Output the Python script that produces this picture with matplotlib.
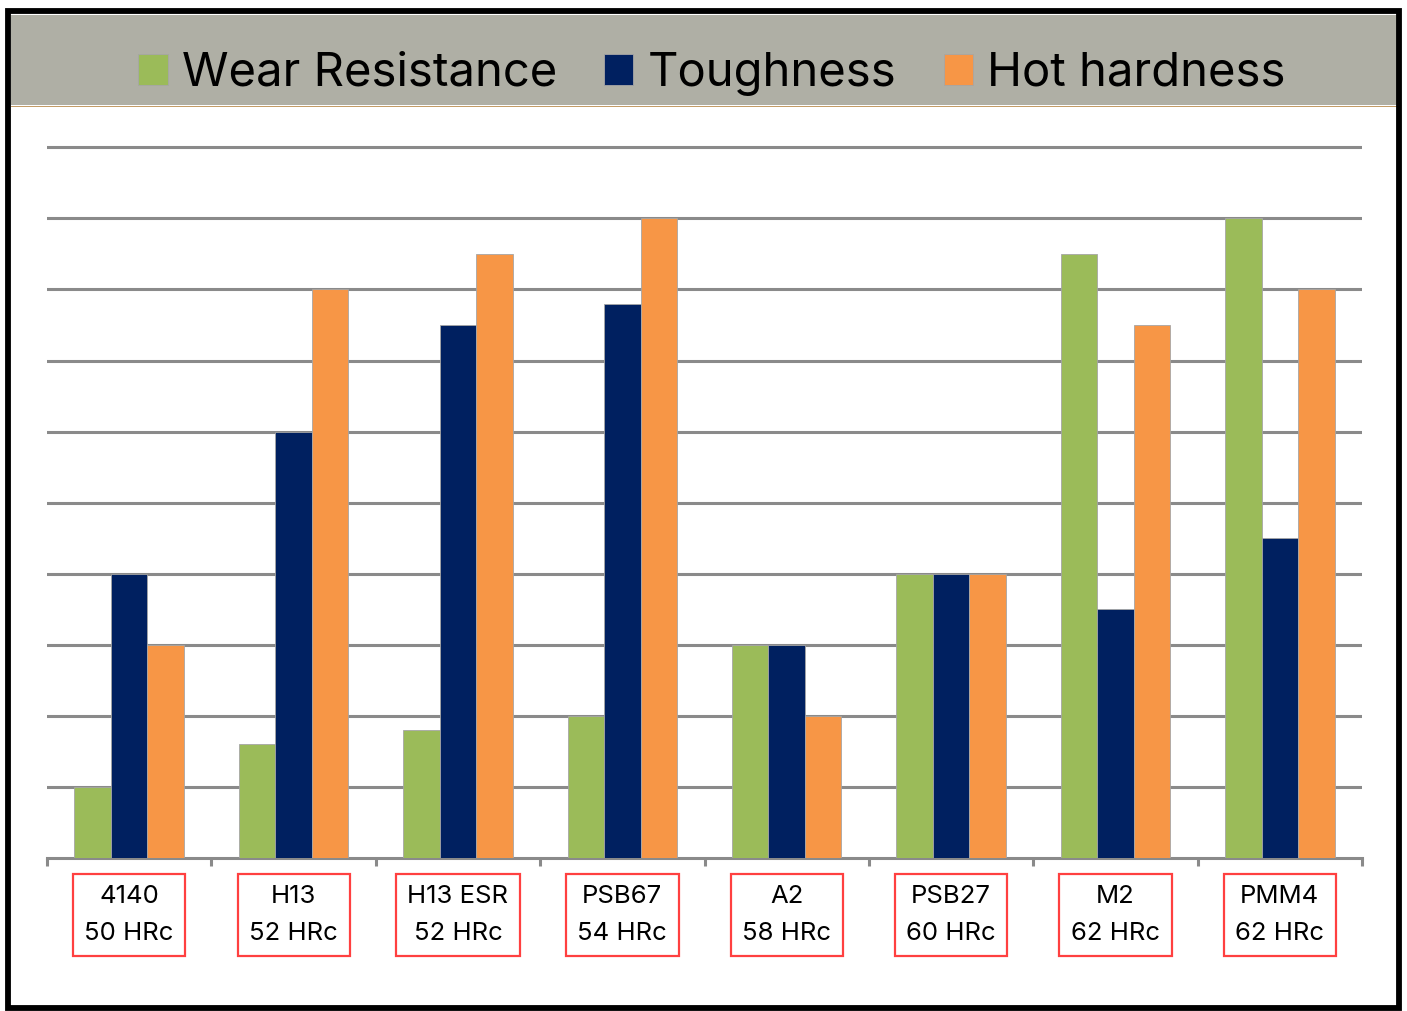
import matplotlib.pyplot as plt
from matplotlib.patches import Rectangle
import numpy as np

plt.rcParams['font.family'] = ['Inter', 'DejaVu Sans']

steels = ['4140\n50 HRc', 'H13\n52 HRc', 'H13 ESR\n52 HRc', 'PSB67\n54 HRc',
          'A2\n58 HRc', 'PSB27\n60 HRc', 'M2\n62 HRc', 'PMM4\n62 HRc']
wear = [1, 1.6, 1.8, 2, 3, 4, 8.5, 9]
tough = [4, 6, 7.5, 7.8, 3, 4, 3.5, 4.5]
hot = [3, 8, 8.5, 9, 2, 4, 7.5, 8]

series = [('Wear Resistance', wear, '#9BBB59'),
          ('Toughness', tough, '#002060'),
          ('Hot hardness', hot, '#F79646')]

fig = plt.figure(figsize=(14.07, 10.11), dpi=100)

# header band and outer frame
fig.patches.append(Rectangle((11/1407, 1 - 105/1011), 1386/1407, 90/1011,
                             transform=fig.transFigure, facecolor='#AFAFA5',
                             edgecolor='none', zorder=0))
fig.add_artist(plt.Line2D([11/1407, 1397/1407], [1 - 105.5/1011] * 2,
                          transform=fig.transFigure, color='#B8894A', lw=0.6))
fig.patches.append(Rectangle((8/1407, 1 - 1008/1011), 1391/1407, 997/1011,
                             transform=fig.transFigure, facecolor='none',
                             edgecolor='black', lw=4.2, zorder=5))

ax = fig.add_axes([47/1407, 153/1011, 1315/1407, 732/1011])
ax.set_xlim(0, len(steels))
ax.set_ylim(0, 10.3)

x = np.arange(len(steels)) + 0.5
w = 0.222
for k, (name, vals, col) in enumerate(series):
    ax.bar(x + (k - 1) * w, vals, w, color=col, edgecolor='#A6A6A6',
           linewidth=0.6, label=name, zorder=3)

ax.set_yticks(np.arange(1, 11))
ax.yaxis.grid(True, color='#8A8A8A', lw=2.2, zorder=0)
ax.tick_params(axis='y', left=False, labelleft=False)
ax.set_xticks(np.arange(len(steels) + 1))
ax.tick_params(axis='x', direction='out', length=6, width=2.2,
               color='#8A8A8A', labelbottom=False)
for s in ['top', 'left', 'right']:
    ax.spines[s].set_visible(False)
ax.spines['bottom'].set_color('#8A8A8A')
ax.spines['bottom'].set_linewidth(2.2)

for xi, lab in zip(x, steels):
    ax.annotate(lab, xy=(xi, 0), xytext=(0, -41), textcoords='offset points',
                ha='center', va='center', fontsize=18.5, linespacing=1.75,
                annotation_clip=False,
                bbox=dict(boxstyle='square,pad=0.45', facecolor='white',
                          edgecolor='#FF4040', lw=1.6))

fig.legend(loc='center', bbox_to_anchor=(0.506, 1 - 74/1011), ncol=3,
           frameon=False, fontsize=34, handlelength=0.62, handleheight=0.62,
           handletextpad=0.3, columnspacing=1.0)

fig.savefig('out.png', dpi=100)
